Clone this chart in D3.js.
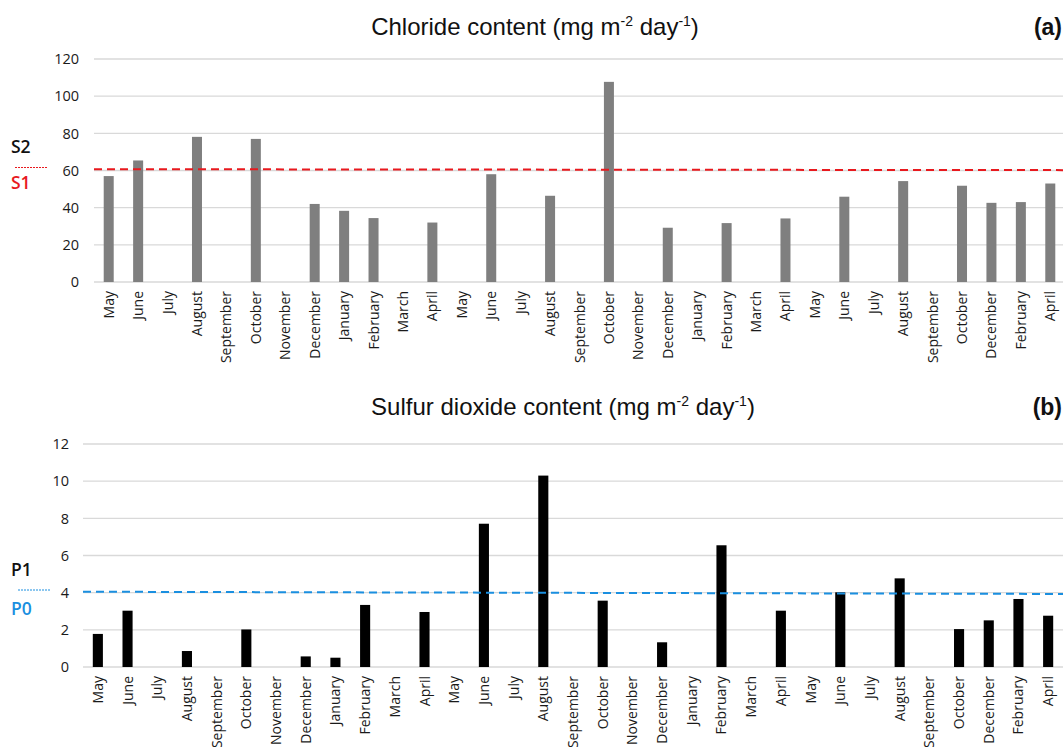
<!DOCTYPE html>
<meta charset="utf-8">
<script src="https://d3js.org/d3.v7.min.js"></script>
<style>
  body { margin: 0; background: #fff; }
  text { font-family: "Open Sans", "Liberation Sans", sans-serif; }
</style>
<div id="chart"></div>
<script>
// months along the x axis (33 sampling periods)
var months = ["May","June","July","August","September","October","November","December","January","February","March","April",
  "May","June","July","August","September","October","November","December","January","February","March","April",
  "May","June","July","August","September","October","December","February","April"];

// chloride deposition, mg m-2 day-1 (null = no bar)
var chloride = [57, 65.4, null, 78.1, null, 77, null, 42, 38.3, 34.4, null, 32,
  null, 58, null, 46.4, null, 107.7, null, 29.2, null, 31.7, null, 34.2,
  null, 45.9, null, 54.3, null, 51.8, 42.6, 43, 53];

// sulfur dioxide deposition, mg m-2 day-1
var sulfur = [1.78, 3.03, null, 0.86, null, 2.02, null, 0.57, 0.5, 3.34, null, 2.96,
  null, 7.71, null, 10.3, null, 3.57, null, 1.33, null, 6.55, null, 3.03,
  null, 4.02, null, 4.77, null, 2.04, 2.51, 3.66, 2.76];

// threshold lines (value at left end, value at right end)
var chlorideLimit = [60.7, 60.2];
var sulfurLimit = [4.05, 3.93];

var chlorideTicks = [0, 20, 40, 60, 80, 100, 120];
var sulfurTicks = [0, 2, 4, 6, 8, 10, 12];

var W = 1063, H = 747;
var svg = d3.select("#chart").append("svg")
  .attr("width", W).attr("height", H);

function panel(opt) {
  var g = svg.append("g");
  var x = d3.scaleBand().domain(d3.range(months.length))
    .range([opt.left, opt.right]).paddingInner(0.66).paddingOuter(0.33);
  var y = d3.scaleLinear().domain([0, opt.max]).range([opt.bottom, opt.top]);

  // gridlines
  g.selectAll(".grid").data(opt.ticks).enter().append("line")
    .attr("x1", opt.left).attr("x2", opt.right)
    .attr("y1", d => y(d)).attr("y2", d => y(d))
    .attr("stroke", "#d9d9d9").attr("stroke-width", 1.3);

  // y tick labels
  g.selectAll(".yl").data(opt.ticks).enter().append("text")
    .attr("x", opt.tickX).attr("y", d => y(d)).attr("dy", "0.36em")
    .attr("text-anchor", "end").attr("font-size", 14.5).attr("fill", "#1a1a1a")
    .text(d => d);

  // bars
  var vals = opt.values.map((v, i) => ({i: i, v: v})).filter(d => d.v != null);
  g.selectAll(".bar").data(vals).enter().append("rect")
    .attr("x", d => x(d.i)).attr("width", x.bandwidth())
    .attr("y", d => y(d.v)).attr("height", d => y(0) - y(d.v))
    .attr("fill", opt.barColor);

  // month labels
  g.selectAll(".xl").data(months).enter().append("text")
    .attr("transform", (d, i) => "translate(" + (x(i) + x.bandwidth() / 2 + 5) + "," + (opt.bottom + 9) + ") rotate(-90)")
    .attr("text-anchor", "end").attr("font-size", 14).attr("fill", "#1a1a1a")
    .text(d => d);

  // threshold dashed line
  g.append("line")
    .attr("x1", opt.left).attr("x2", opt.right)
    .attr("y1", y(opt.limit[0])).attr("y2", y(opt.limit[1]))
    .attr("stroke", opt.limitColor).attr("stroke-width", 2)
    .attr("stroke-dasharray", "8,5");

  // side labels
  g.append("text").attr("x", 11).attr("y", opt.sideY + opt.upperDy)
    .attr("font-size", 17.5).attr("font-weight", 600).attr("fill", "#111").text(opt.upper);
  g.append("line").attr("x1", opt.sideX1).attr("x2", opt.sideX2)
    .attr("y1", opt.sideY).attr("y2", opt.sideY)
    .attr("stroke", opt.limitColor).attr("stroke-width", 1).attr("stroke-dasharray", "2,1");
  g.append("text").attr("x", 11).attr("y", opt.sideY + opt.lowerDy)
    .attr("font-size", 17.5).attr("font-weight", 600).attr("fill", opt.limitColor).text(opt.lower);

  // title with superscripts
  var t = g.append("text").attr("x", opt.titleX).attr("y", opt.titleY)
    .attr("text-anchor", "middle").attr("font-size", 24)
    .style("font-family", "'Liberation Sans', Arial, sans-serif").attr("fill", "#111");
  t.append("tspan").text(opt.title + " (mg m");
  t.append("tspan").attr("font-size", 14).attr("dy", -9).text("-2");
  t.append("tspan").attr("dy", 9).text(" day");
  t.append("tspan").attr("font-size", 14).attr("dy", -9).text("-1");
  t.append("tspan").attr("dy", 9).text(")");

  g.append("text").attr("x", 1062).attr("y", opt.titleY)
    .attr("text-anchor", "end").attr("font-size", 23).attr("font-weight", "bold")
    .style("font-family", "'Liberation Sans', Arial, sans-serif").attr("fill", "#111")
    .text(opt.tag);
}

panel({
  values: chloride, ticks: chlorideTicks, max: 120,
  left: 94, right: 1065, top: 59, bottom: 282, tickX: 79,
  barColor: "#7f7f7f", limit: chlorideLimit, limitColor: "#e8191e",
  upper: "S2", lower: "S1", sideX1: 15, sideX2: 48, sideY: 167.5, upperDy: -15, lowerDy: 21,
  title: "Chloride content", titleX: 535, titleY: 35, tag: "(a)"
});

panel({
  values: sulfur, ticks: sulfurTicks, max: 12,
  left: 83, right: 1063, top: 444, bottom: 667, tickX: 69,
  barColor: "#000", limit: sulfurLimit, limitColor: "#1a8fe0",
  upper: "P1", lower: "P0", sideX1: 18, sideX2: 51, sideY: 590, upperDy: -14, lowerDy: 25,
  title: "Sulfur dioxide content", titleX: 563, titleY: 415, tag: "(b)"
});
</script>
